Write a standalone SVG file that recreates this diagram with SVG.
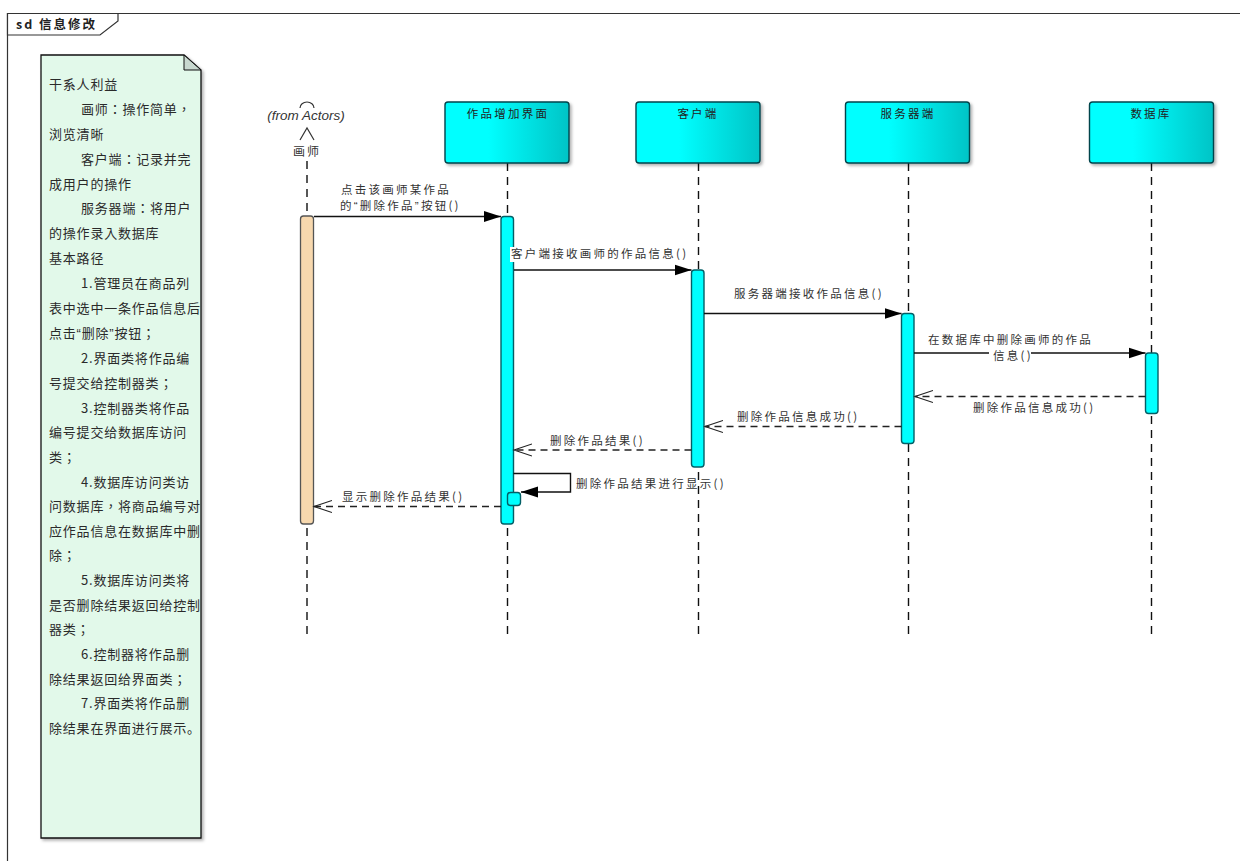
<svg xmlns="http://www.w3.org/2000/svg" width="1240" height="861" viewBox="0 0 1240 861">
<style>
text{font-family:"Noto Sans CJK SC","Liberation Sans",sans-serif;fill:#333}
.note{font-family:"Noto Sans CJK TC","Noto Sans CJK SC",sans-serif;font-size:13px;letter-spacing:.8px;fill:#2a2a2a}
.sc{font-family:"Noto Sans CJK SC",sans-serif}
.q{font-family:"Liberation Sans",sans-serif}
.lbl{font-size:11.500px;letter-spacing:2.250px;fill:#333}
.head{font-size:11.500px;letter-spacing:2.250px;text-anchor:middle;fill:#222}
.life{stroke:#111;stroke-width:1.4;stroke-dasharray:8 6;fill:none}
.msg{stroke:#111;stroke-width:1.4;fill:none}
.ret{stroke:#222;stroke-width:1.4;stroke-dasharray:7 5;fill:none}
.act{fill:#00ffff;stroke:#035f66;stroke-width:1.4}
.box{fill:url(#cy);stroke:#03444c;stroke-width:1.4;filter:url(#sh)}
.filled{marker-end:url(#fa)}
.open{marker-end:url(#oa)}
.wb{fill:#fff}
</style>
<defs>
<linearGradient id="cy" x1="0" y1="0" x2="1" y2="0"><stop offset=".35" stop-color="#00ffff"/><stop offset="1" stop-color="#00c4c6"/></linearGradient>
<filter id="sh" x="-5%" y="-5%" width="115%" height="115%"><feDropShadow dx="2" dy="2" stdDeviation="1.500" flood-color="#000" flood-opacity=".3"/></filter>
<marker id="fa" markerUnits="userSpaceOnUse" markerWidth="18" markerHeight="12" refX="17" refY="6" orient="auto"><path d="M0 .5L17 6L0 11.500z" fill="#000"/></marker>
<marker id="oa" markerUnits="userSpaceOnUse" markerWidth="20" markerHeight="14" refX="18" refY="7" orient="auto"><path d="M0 1L18 7L0 13" fill="none" stroke="#222" stroke-width="1.100"/></marker>
</defs>
<rect width="1240" height="861" fill="#fff"/>
<g id="frame">
<path d="M7.500 861V13.500H1240" fill="none" stroke="#333" stroke-width="1.200"/>
<path d="M7.500 13.500H118V21L100 35H7.500z" fill="#fff" stroke="#333" stroke-width="1.200"/>
<text x="16" y="29" style="font-size:12.500px;font-weight:700;letter-spacing:2px;fill:#222">sd 信息修改</text>
</g>
<g id="note">
<path d="M41 55H184L201 70V838H41z" fill="#e2f9ea" stroke="#111" stroke-width="1.300" filter="url(#sh)"/>
<path d="M184 55V70H201z" fill="#c8d8cf" stroke="#111" stroke-width="1"/>
<text class="note" x="49" y="89">干系人利益</text>
<text class="note" x="81" y="114">画师：操作简单，</text>
<text class="note" x="49" y="139">浏览清晰</text>
<text class="note" x="81" y="164">客户端：记录并完</text>
<text class="note" x="49" y="189">成用户的操作</text>
<text class="note" x="81" y="213">服务器端：将用户</text>
<text class="note" x="49" y="238">的操作录入数据库</text>
<text class="note" x="49" y="263">基本路径</text>
<text class="note" x="81" y="288">1.管理员在商品列</text>
<text class="note" x="49" y="313">表中选中一条作品信息后</text>
<text class="note" x="49" y="338">点击<tspan class="q">“</tspan>删除<tspan class="q">”</tspan>按钮；</text>
<text class="note" x="81" y="363">2.界面类将作品编</text>
<text class="note" x="49" y="388">号提交给控制器类；</text>
<text class="note" x="81" y="413">3.控制器类将作品</text>
<text class="note" x="49" y="437">编号提交给数据库访问</text>
<text class="note" x="49" y="462">类；</text>
<text class="note" x="81" y="487">4.数据库访问类访</text>
<text class="note" x="49" y="511">问数据库，将商品编号对</text>
<text class="note" x="49" y="536">应作品信息在数据库中删</text>
<text class="note" x="49" y="560">除；</text>
<text class="note" x="81" y="585">5.数据库访问类将</text>
<text class="note" x="49" y="610">是否删除结果返回给控制</text>
<text class="note" x="49" y="634">器类；</text>
<text class="note" x="81" y="659">6.控制器将作品删</text>
<text class="note" x="49" y="684">除结果返回给界面类；</text>
<text class="note" x="81" y="708">7.界面类将作品删</text>
<text class="note" x="49" y="733">除结果在界面进行展示<tspan class="sc">。</tspan></text>
</g>
<g id="lifelines">
<path class="life" d="M307 161V216M307 634V524"/>
<path class="life" d="M507.500 163V216M507.500 634V524"/>
<path class="life" d="M698.500 163V270M698.500 634V467"/>
<path class="life" d="M908.500 163V313M908.500 634V443"/>
<path class="life" d="M1151.500 163V353M1151.500 634V413"/>
</g>
<g id="actor">
<path d="M300 108A7 6 0 0 1 314 108" fill="none" stroke="#333" stroke-width="1.200"/>
<path d="M300 140L307 128L314 140" fill="none" stroke="#333" stroke-width="1.200"/>
<text x="306" y="120" text-anchor="middle" style="font-family:'Liberation Sans',sans-serif;font-style:italic;font-size:13.500px;fill:#333">(from Actors)</text>
<text x="307" y="156" text-anchor="middle" style="font-size:12px;letter-spacing:2px">画师</text>
</g>
<g id="node-ui"><rect class="box" x="445" y="102" width="124" height="61" rx="3"/><text class="head" x="508" y="118">作品增加界面</text></g>
<g id="node-client"><rect class="box" x="636" y="102" width="124" height="61" rx="3"/><text class="head" x="698" y="118">客户端</text></g>
<g id="node-server"><rect class="box" x="845.500" y="102" width="124" height="61" rx="3"/><text class="head" x="908" y="118">服务器端</text></g>
<g id="node-db"><rect class="box" x="1089.500" y="102" width="124" height="61" rx="3"/><text class="head" x="1151" y="118">数据库</text></g>
<g id="activations">
<rect x="300.500" y="216" width="13" height="308" rx="3" fill="#f7d8ae" stroke="#555" stroke-width="1.300"/>
<rect class="act" x="501" y="216.500" width="12.500" height="307.500" rx="3"/>
<rect class="act" x="691.500" y="270" width="12.500" height="197" rx="3"/>
<rect class="act" x="901.500" y="313.500" width="12.500" height="130" rx="3"/>
<rect class="act" x="1145.500" y="353" width="12.500" height="60.500" rx="3"/>
<rect class="act" x="507.500" y="492.500" width="13" height="13" rx="3"/>
</g>
<g id="connectors">
<line class="msg filled" x1="314" y1="216.500" x2="501" y2="216.500"/>
<line class="msg filled" x1="514" y1="270" x2="691.500" y2="270"/>
<line class="msg filled" x1="704" y1="313.500" x2="901.500" y2="313.500"/>
<line class="msg filled" x1="914" y1="353" x2="1145.500" y2="353"/>
<line class="ret open" x1="1145.500" y1="396.500" x2="915" y2="396.500"/>
<line class="ret open" x1="901.500" y1="426.500" x2="705" y2="426.500"/>
<line class="ret open" x1="691.500" y1="450" x2="514" y2="450"/>
<path class="msg filled" d="M513.500 473.500H570.500V492H521"/>
<line class="ret open" x1="501" y1="506.500" x2="314" y2="506.500"/>
</g>
<g id="labels">
<text class="lbl" x="341" y="194">点击该画师某作品</text>
<text class="lbl" x="340" y="210">的<tspan class="q">“</tspan>删除作品<tspan class="q">”</tspan>按钮()</text>
<rect class="wb" x="510" y="247" width="177" height="15"/>
<text class="lbl" x="511" y="258">客户端接收画师的作品信息()</text>
<text class="lbl" x="734" y="298">服务器端接收作品信息()</text>
<text class="lbl" x="928" y="344">在数据库中删除画师的作品</text>
<rect class="wb" x="989" y="347" width="42" height="15"/>
<text class="lbl" x="993" y="360">信息()</text>
<text class="lbl" x="973" y="412">删除作品信息成功()</text>
<text class="lbl" x="737" y="421">删除作品信息成功()</text>
<text class="lbl" x="550" y="445">删除作品结果()</text>
<text class="lbl" x="576" y="488">删除作品结果进行显示()</text>
<text class="lbl" x="342" y="501">显示删除作品结果()</text>
</g>
</svg>
